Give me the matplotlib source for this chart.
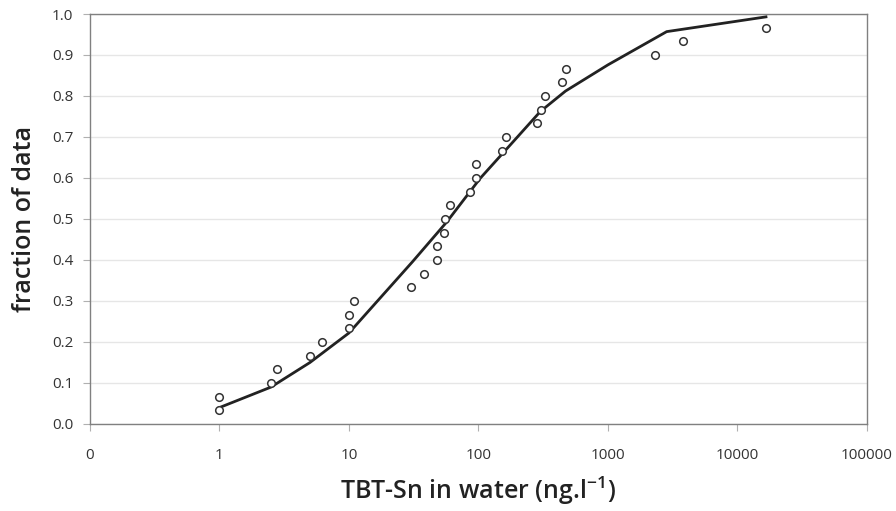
import numpy as np
import matplotlib.pyplot as plt
from matplotlib.ticker import FixedLocator, FixedFormatter, NullLocator

# observed data (TBT-Sn concentration, cumulative fraction)
conc = [1, 1, 2.5, 2.8, 5, 6.2, 10, 10, 11, 30, 38, 48, 48, 54, 55, 60,
        86, 96, 96, 152, 163, 283, 304, 327, 441, 474, 2300, 3800, 16600]
frac = [0.033, 0.067, 0.100, 0.133, 0.167, 0.200, 0.233, 0.267, 0.300,
        0.333, 0.367, 0.400, 0.433, 0.467, 0.500, 0.533, 0.567, 0.600,
        0.633, 0.667, 0.700, 0.733, 0.767, 0.800, 0.833, 0.867, 0.900,
        0.933, 0.967]

# fitted curve
fit_x = [1, 2.5, 5, 10, 31, 57, 103, 186, 300, 470, 1000, 2840, 16600]
fit_y = [0.04, 0.09, 0.15, 0.222, 0.396, 0.493, 0.599, 0.689, 0.762,
         0.812, 0.876, 0.957, 0.993]

xticks = [0.1, 1, 10, 100, 1000, 10000, 100000]
xticklabels = ['0', '1', '10', '100', '1000', '10000', '100000']

plt.rcParams['font.family'] = ['Open Sans', 'DejaVu Sans']

fig = plt.figure(figsize=(8.96, 5.11), dpi=100)
ax = fig.add_axes([0.1004, 0.1703, 0.8672, 0.8023])

ax.plot(fit_x, fit_y, color='#222222', lw=2.0, zorder=3)
ax.scatter(conc, frac, s=30, facecolors='white', edgecolors='#333333',
           linewidths=1.1, zorder=4)

ax.set_xscale('log')
ax.set_xlim(0.1, 100000)
ax.set_ylim(0, 1.0)
ax.xaxis.set_major_locator(FixedLocator(xticks))
ax.xaxis.set_major_formatter(FixedFormatter(xticklabels))
ax.xaxis.set_minor_locator(NullLocator())
ax.set_yticks(np.arange(0, 1.01, 0.1))
ax.set_yticklabels([f'{v:.1f}' for v in np.arange(0, 1.01, 0.1)])

ax.grid(axis='y', color='#e6e6e6', lw=1.0)
ax.set_axisbelow(True)
for s in ax.spines.values():
    s.set_color('#808080')
    s.set_linewidth(1.0)

ax.tick_params(axis='x', length=5, color='#b0b0b0', labelsize=11,
               labelcolor='#333333', pad=12)
ax.tick_params(axis='y', length=5, color='#b0b0b0', labelsize=11,
               labelcolor='#333333', pad=7)

ax.set_xlabel(r'TBT-Sn in water (ng.l$^{\mathregular{-1}}$)', fontsize=18,
              fontweight='semibold', color='#222222', labelpad=9)
ax.set_ylabel('fraction of data', fontsize=18, fontweight='semibold',
              color='#222222', labelpad=11)

fig.savefig('out.png', dpi=100)
